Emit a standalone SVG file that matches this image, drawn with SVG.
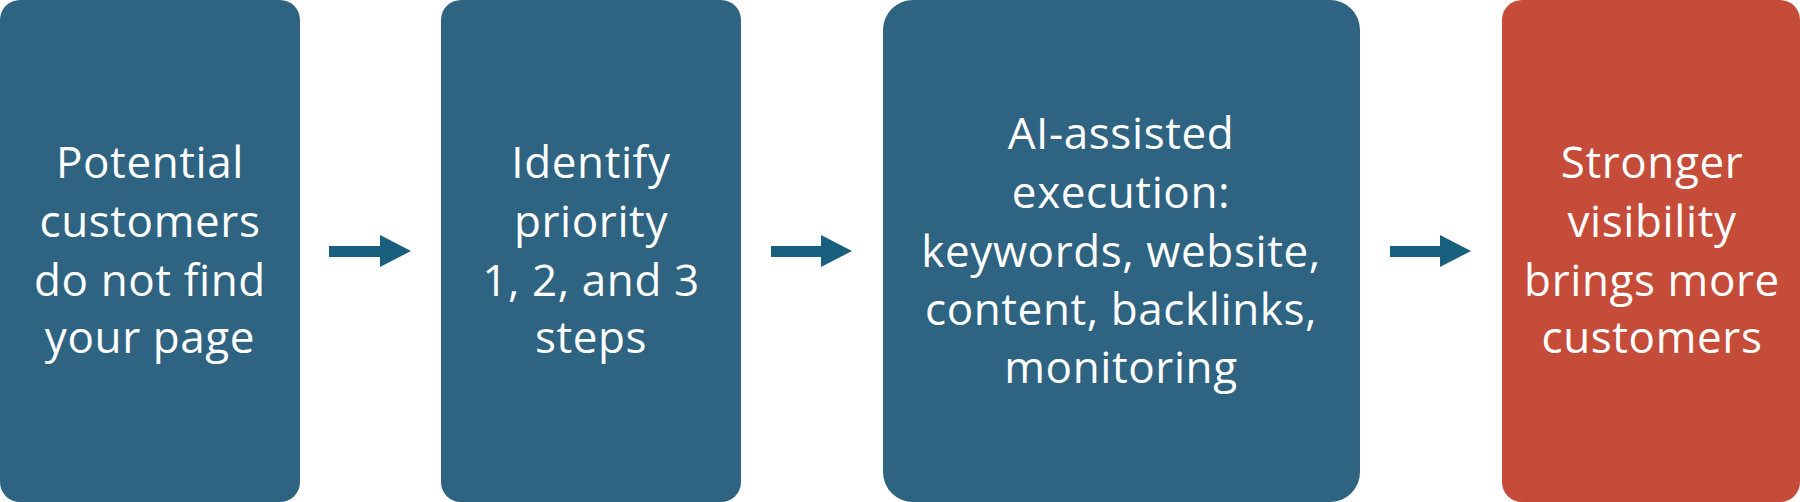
<svg xmlns="http://www.w3.org/2000/svg" width="1800" height="502" viewBox="0 0 1800 502">
<defs>
<style>
.box{fill:#2F6382}
.red{fill:#C64C3A}
.lbl{font-family:"Open Sans","Noto Sans",sans-serif;font-size:44px;letter-spacing:0.6px;fill:#ffffff;text-anchor:middle}
.arr{fill:#19607F}
</style>
</defs>
<rect width="1800" height="502" fill="#ffffff"/>
<g id="node1">
<rect class="box" x="0" y="0" width="300" height="502" rx="20" ry="20"/>
<text class="lbl"><tspan x="150" y="178">Potential</tspan><tspan x="150" y="237">customers</tspan><tspan x="150" y="296">do not find</tspan><tspan x="150" y="353">your page</tspan></text>
</g>
<g id="node2">
<rect class="box" x="441" y="0" width="300" height="502" rx="20" ry="20"/>
<text class="lbl"><tspan x="591" y="178">Identify</tspan><tspan x="591" y="237">priority</tspan><tspan x="591" y="296">1, 2, and 3</tspan><tspan x="591" y="353">steps</tspan></text>
</g>
<g id="node3">
<rect class="box" x="883" y="0" width="477" height="502" rx="30" ry="30"/>
<text class="lbl"><tspan x="1121" y="149">AI-assisted</tspan><tspan x="1121" y="208">execution:</tspan><tspan x="1121" y="267">keywords, website,</tspan><tspan x="1121" y="325">content, backlinks,</tspan><tspan x="1121" y="383">monitoring</tspan></text>
</g>
<g id="node4">
<rect class="red" x="1502" y="0" width="298" height="502" rx="20" ry="20"/>
<text class="lbl"><tspan x="1652" y="178">Stronger</tspan><tspan x="1652" y="237">visibility</tspan><tspan x="1652" y="296">brings more</tspan><tspan x="1652" y="353">customers</tspan></text>
</g>
<g id="connectors">
<polygon class="arr" points="329,246 380,246 380,235 411,251 380,267 380,257 329,257"/>
<polygon class="arr" points="771,246 821,246 821,235 852,251 821,267 821,257 771,257"/>
<polygon class="arr" points="1390,246 1440,246 1440,235 1471,251 1440,267 1440,257 1390,257"/>
</g>
</svg>
